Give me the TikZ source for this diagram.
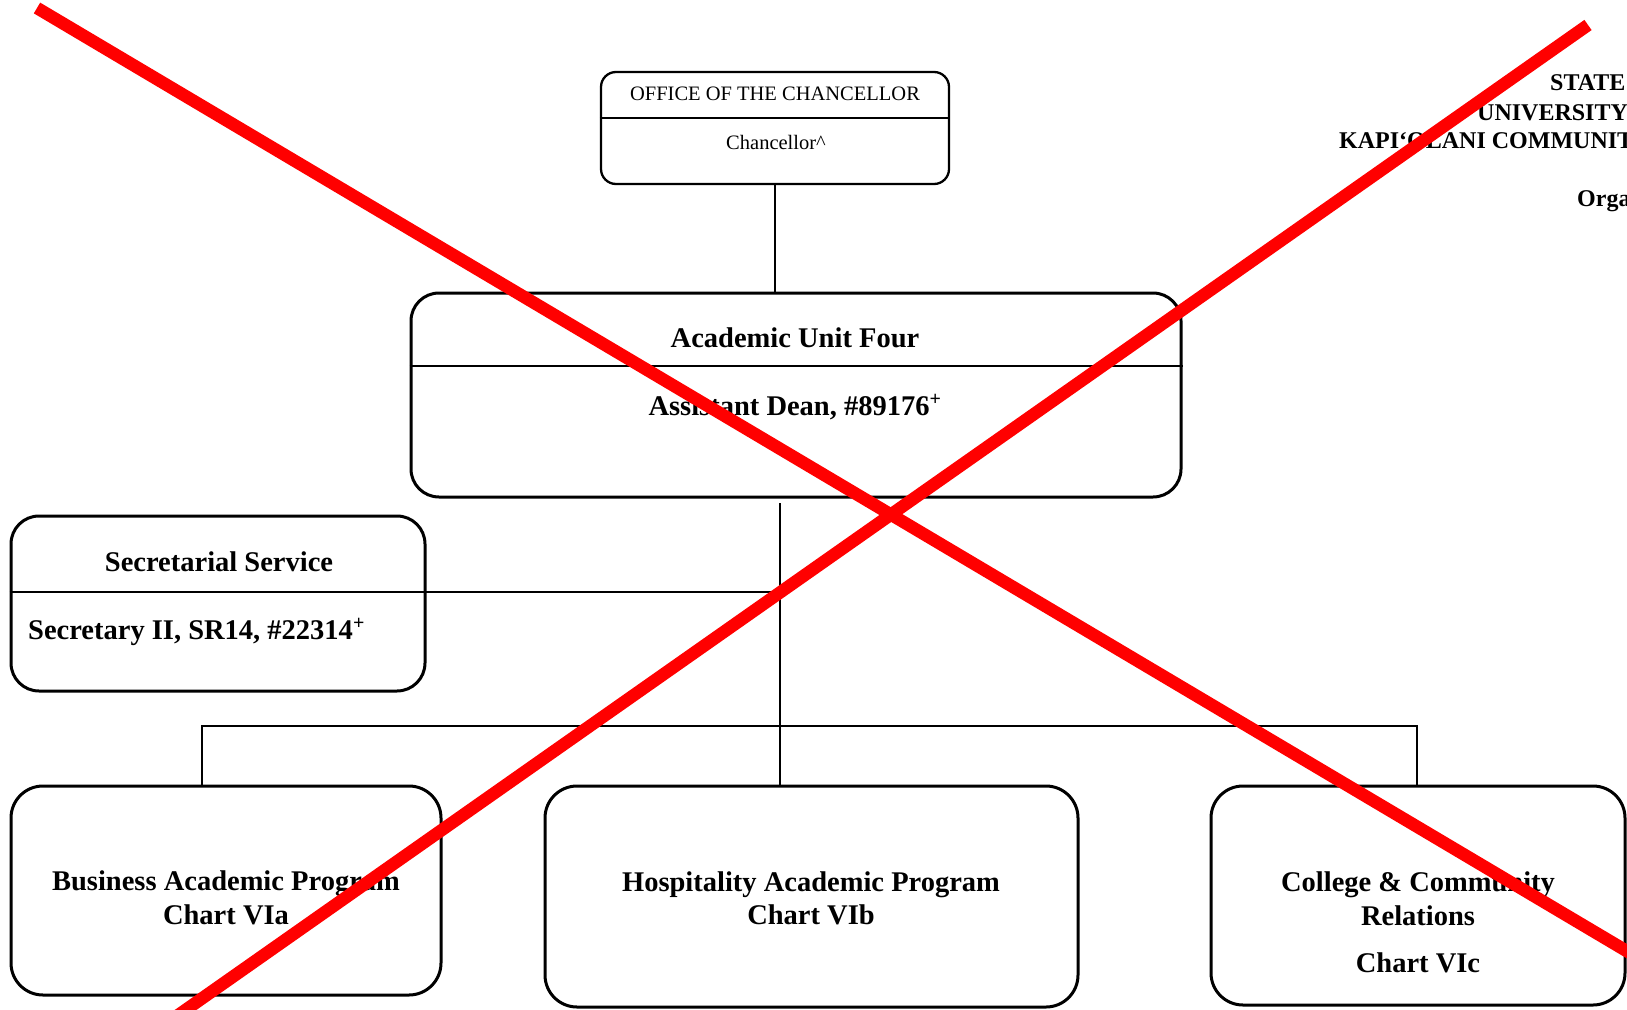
\documentclass[tikz,border=0pt]{standalone}
\usepackage{fontspec}
\setmainfont{Liberation Serif}
\begin{document}
\begin{tikzpicture}[x=1pt,y=1pt,
  box/.style={draw=black, line width=3pt, rounded corners=28pt, inner sep=0pt, fill=none},
  conn/.style={draw=black, line width=2.8pt},
  bt/.style={anchor=base, inner sep=0pt, font=\fontsize{28.5}{34}\selectfont\bfseries},
  rt/.style={anchor=base, inner sep=0pt, font=\fontsize{20.5}{24}\selectfont},
  hd/.style={anchor=base west, inner sep=0pt, font=\fontsize{24}{28}\selectfont\bfseries},
  cross/.style={draw=red, line width=12.5pt, line cap=butt}]
\useasboundingbox (0,0) rectangle (1627,-1009);
\clip (0,0) rectangle (1627,-1009);
\fill[white] (0,0) rectangle (1627,-1009);

% boxes
\node[box, rounded corners=15pt, line width=2.3pt, minimum width=348pt, minimum height=112pt] (chan) at (775,-128) {};
\node[box, minimum width=770pt, minimum height=204pt] (acad) at (796,-395) {};
\node[box, minimum width=414pt, minimum height=175pt] (sec) at (218,-603.5) {};
\node[box, rounded corners=32pt, minimum width=430pt, minimum height=209pt] (bus) at (226,-890.5) {};
\node[box, rounded corners=32pt, minimum width=533pt, minimum height=221pt] (hos) at (811.5,-896.5) {};
\node[box, rounded corners=32pt, minimum width=414pt, minimum height=219pt] (col) at (1418,-895.5) {};

% helper coordinates
\coordinate (chanDiv) at (0,-118);
\coordinate (acadDiv) at (0,-366);
\coordinate (secDiv) at (0,-592);
\coordinate (trunkTop) at (780,-503);
\coordinate (bar) at (0,-726);
\coordinate (busTap) at (202,0);
\coordinate (colTap) at (1417,0);

% dividers
\draw[conn, line width=2.3pt] (chan.west |- chanDiv) -- (chan.east |- chanDiv);
\draw[conn] (acad.west |- acadDiv) -- (acad.east |- acadDiv);
\draw[conn] (sec.west |- secDiv) -- (trunkTop |- secDiv);

% connectors
\draw[conn, line width=2.4pt] (chan.south) -- (chan.south |- acad.north);
\draw[conn] (trunkTop) -- (trunkTop |- hos.north);
\draw[conn] (busTap |- bus.north) -- (busTap |- bar) -- (colTap |- bar) -- (colTap |- col.north);

% texts
\node[rt] (tOffice) at (775,-100) {OFFICE OF THE CHANCELLOR};
\node[rt] (tChan) at (776,-149) {Chancellor\textasciicircum};
\node[bt] (tAcad) at (795,-347) {Academic Unit Four};
\node[bt] (tDean) at (795,-415) {Assistant Dean, \#89176\textsuperscript{+}};
\node[bt] (tSec) at (219,-571) {Secretarial Service};
\node[bt, anchor=base west] (tSecII) at (28,-639) {Secretary II, SR14, \#22314\textsuperscript{+}};
\node[bt] (tBus1) at (226,-890) {Business Academic Program};
\node[bt] (tBus2) at (226,-924) {Chart VIa};
\node[bt] (tHos1) at (811,-891) {Hospitality Academic Program};
\node[bt] (tHos2) at (811,-924) {Chart VIb};
\node[bt] (tCol1) at (1418,-891) {College \& Community};
\node[bt] (tCol2) at (1418,-925) {Relations};
\node[bt] (tCol3) at (1418,-972) {Chart VIc};

% header (cut at the right edge, as in the reference)
\node[hd] (h1) at (1550,-90) {STATE};
\node[hd] (h2) at (1477,-120) {UNIVERSITY};
\node[hd] (h3) at (1339,-148) {KAPI‘OLANI COMMUNIT};
\node[hd] (h4) at (1577,-206) {Orga};

% red cross
\draw[cross] (37,-8) -- (1660,-970.8);
\draw[cross] (1588,-25) -- (157,-1030);
\end{tikzpicture}
\end{document}
